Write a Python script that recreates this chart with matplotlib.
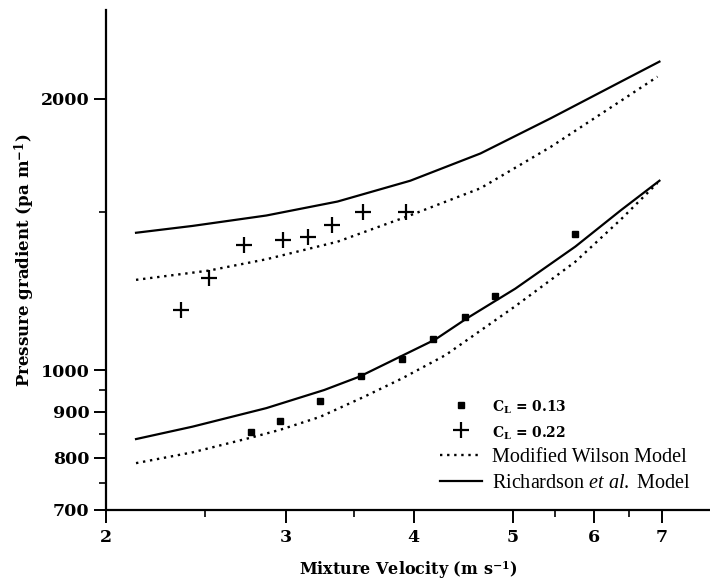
import matplotlib.pyplot as plt
import matplotlib.ticker as ticker
from matplotlib.lines import Line2D

plt.rcParams['mathtext.fontset'] = 'custom'
plt.rcParams['mathtext.rm'] = 'Liberation Serif'
plt.rcParams['mathtext.it'] = 'Liberation Serif:italic'
plt.rcParams['mathtext.bf'] = 'DejaVu Serif:bold'

# measured points
v_013 = [2.77, 2.96, 3.24, 3.55, 3.90, 4.18, 4.49, 4.81, 5.75]
dp_013 = [855, 879, 925, 985, 1029, 1083, 1145, 1209, 1417]

v_022 = [2.37, 2.52, 2.73, 2.98, 3.15, 3.33, 3.57, 3.93]
dp_022 = [1168, 1266, 1378, 1395, 1404, 1450, 1497, 1500]

# model curves, C = 0.22
v_rich_hi = [2.14, 2.43, 2.87, 3.37, 3.97, 4.65, 5.45, 6.38, 6.96]
dp_rich_hi = [1421, 1446, 1485, 1539, 1623, 1740, 1904, 2090, 2200]
v_wil_hi = [2.14, 2.52, 2.87, 3.37, 3.94, 4.65, 5.45, 6.38, 6.93]
dp_wil_hi = [1260, 1290, 1328, 1389, 1481, 1592, 1770, 1990, 2117]

# model curves, C = 0.13
v_rich_lo = [2.14, 2.43, 2.87, 3.27, 3.54, 4.20, 4.51, 5.03, 5.76, 6.38, 6.96]
dp_rich_lo = [839, 866, 908, 951, 984, 1082, 1142, 1232, 1372, 1505, 1623]
v_wil_lo = [2.14, 2.43, 2.76, 2.96, 3.24, 3.58, 3.90, 4.30, 5.03, 5.76, 6.38, 6.93]
dp_wil_lo = [789, 811, 841, 859, 888, 935, 980, 1040, 1178, 1320, 1470, 1614]

y_major = [700, 800, 900, 1000, 2000]
y_minor = [750, 850, 950, 1500]
x_major = [2, 3, 4, 5, 6, 7]
x_minor = [2.5, 3.5, 5.5, 6.5]

fig = plt.figure(figsize=(7.1, 5.87), dpi=100)
ax = fig.add_axes([106/710, 1-510/587, 604/710, 500/587])

dots = (0, (1, 2))
ax.plot(v_rich_hi, dp_rich_hi, color='black', lw=1.6)
ax.plot(v_wil_hi, dp_wil_hi, color='black', lw=1.7, linestyle=dots)
ax.plot(v_rich_lo, dp_rich_lo, color='black', lw=1.6)
ax.plot(v_wil_lo, dp_wil_lo, color='black', lw=1.7, linestyle=dots)
ax.plot(v_013, dp_013, 's', color='black', ms=4)
ax.plot(v_022, dp_022, '+', color='black', ms=11, mew=1.6)

ax.set_xscale('log')
ax.set_yscale('log')
ax.set_xlim(2, 7.8)
ax.set_ylim(700, 2510)

ax.xaxis.set_major_locator(ticker.FixedLocator(x_major))
ax.xaxis.set_minor_locator(ticker.FixedLocator(x_minor))
ax.xaxis.set_major_formatter(ticker.FixedFormatter([str(v) for v in x_major]))
ax.xaxis.set_minor_formatter(ticker.NullFormatter())
ax.yaxis.set_major_locator(ticker.FixedLocator(y_major))
ax.yaxis.set_minor_locator(ticker.FixedLocator(y_minor))
ax.yaxis.set_major_formatter(ticker.FixedFormatter([str(v) for v in y_major]))
ax.yaxis.set_minor_formatter(ticker.NullFormatter())

for s in ['top', 'right']:
    ax.spines[s].set_visible(False)
for s in ['left', 'bottom']:
    ax.spines[s].set_linewidth(1.6)

ax.tick_params(which='major', length=9, width=1.4, direction='out')
ax.tick_params(which='minor', length=5, width=1.2, direction='out')
ax.tick_params(axis='x', which='major', pad=5)
ax.tick_params(axis='y', which='major', pad=3)
for lab in ax.get_xticklabels() + ax.get_yticklabels():
    lab.set_fontfamily('DejaVu Serif')
    lab.set_fontweight('bold')
    lab.set_fontsize(12.5)

ax.set_xlabel(r'Mixture Velocity (m s$^{\mathbf{-1}}$)', family='DejaVu Serif',
              weight='bold', fontsize=11.5)
ax.set_ylabel(r'Pressure gradient (pa m$^{\mathbf{-1}}$)', family='DejaVu Serif',
              weight='bold', fontsize=12)
ax.xaxis.set_label_coords(0.5, -0.098)
ax.yaxis.set_label_coords(-0.112, 0.5)

handles = [
    Line2D([], [], marker='s', color='black', linestyle='none', ms=4),
    Line2D([], [], marker='+', color='black', linestyle='none', ms=11, mew=1.6),
    Line2D([], [], color='black', lw=1.7, linestyle=dots),
    Line2D([], [], color='black', lw=1.6),
]
labels = [r'$\mathbf{C_L}$ = 0.13', r'$\mathbf{C_L}$ = 0.22',
          'Modified Wilson Model', r'Richardson $\it{et\ al.}$ Model']
leg = ax.legend(handles, labels, loc='upper left',
                bbox_to_anchor=(440/710, 1-398/587), bbox_transform=fig.transFigure,
                frameon=False, borderpad=0, borderaxespad=0, handlelength=2.1,
                handletextpad=0.5, labelspacing=0.33,
                prop={'family': 'Liberation Serif', 'size': 14.5})
for t in leg.get_texts()[:2]:
    t.set_fontfamily('DejaVu Serif')
    t.set_fontweight('bold')
    t.set_fontsize(10)

fig.savefig('out.png', dpi=100)
